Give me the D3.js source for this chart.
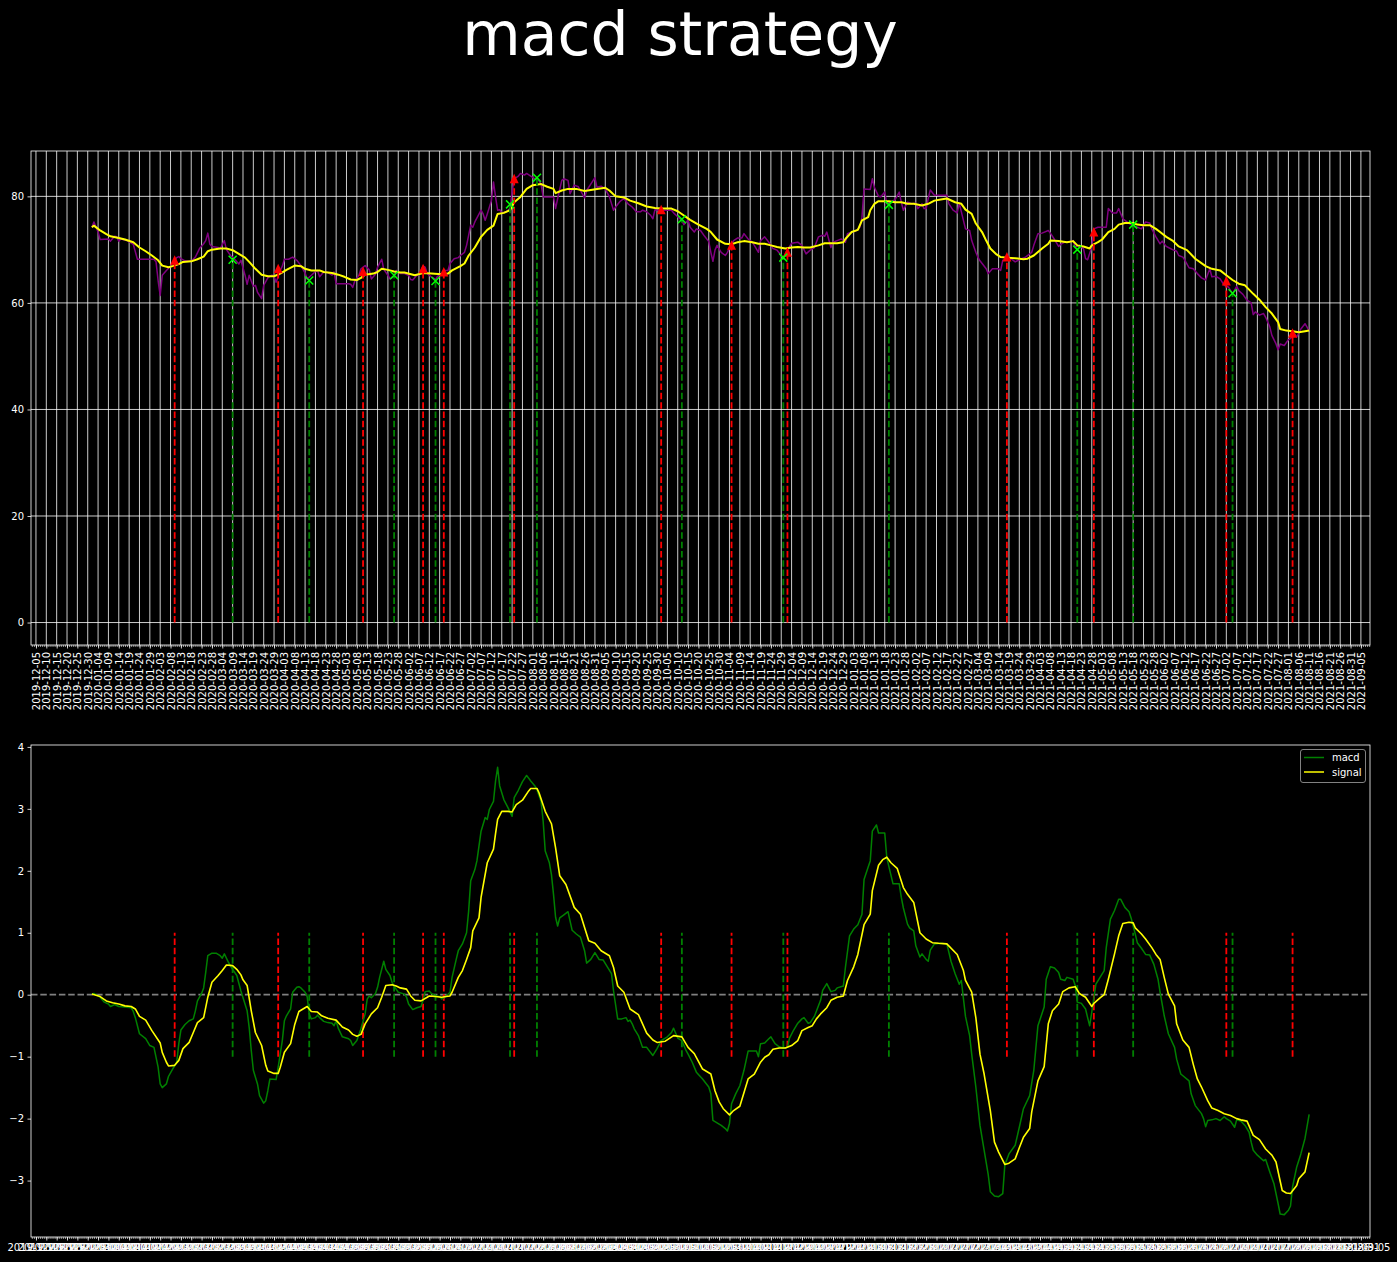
<!DOCTYPE html>
<html>
<head>
<meta charset="utf-8">
<script src="https://cdn.jsdelivr.net/npm/d3@7"></script>
<style>
  html, body { margin: 0; padding: 0; background: #000; }
  svg { display: block; }
</style>
</head>
<body>
<div id="chart"></div>
<script>
// ---------------- DATA ----------------
const chartTitle = "macd strategy";
const baseDate = "2019-12-05";           // day 0 of the day offsets below
const xTickStart = "2019-12-05";
const xTickEnd = "2021-09-05";
const xTickStepDays = 5;
const yTicksTop = [0, 20, 40, 60, 80];
const yTicksBottom = [-3, -2, -1, 0, 1, 2, 3, 4];
const legendLabels = ["macd", "signal"];

// [days since baseDate, price]
const priceSeries = [[27,74.2],[28,75.2],[30,73.3],[31,71.9],[35,72.0],[36,71.6],[38,72.5],[39,72.4],[40,71.6],[41,72.0],[44,71.7],[47,71.0],[49,68.2],[57,68.2],[58,67.7],[59,64.2],[60,61.4],[61,65.2],[63,66.1],[65,66.9],[66,67.5],[68,68.5],[69,68.7],[70,68.3],[72,67.9],[75,67.8],[77,68.6],[79,70.2],[81,71.1],[82,71.7],[83,73.1],[84,71.0],[85,70.6],[88,70.4],[89,70.2],[91,71.7],[92,70.0],[94,68.9],[96,68.2],[98,67.3],[99,68.0],[101,65.2],[102,63.5],[103,65.2],[104,64.1],[105,63.1],[106,63.3],[107,62.0],[109,60.8],[110,63.3],[112,64.7],[114,65.2],[115,65.0],[116,63.9],[118,66.1],[119,66.9],[120,68.2],[122,68.2],[124,68.6],[126,68.0],[128,67.0],[130,65.6],[131,64.5],[133,65.2],[135,65.9],[136,66.1],[137,64.9],[139,65.8],[141,65.7],[143,65.2],[144,65.8],[145,63.6],[151,63.6],[152,63.5],[153,62.9],[154,64.1],[156,65.2],[157,66.4],[159,67.0],[161,66.2],[162,64.5],[164,65.4],[165,66.7],[167,68.2],[168,66.3],[170,65.2],[171,64.5],[173,65.0],[174,66.1],[176,65.5],[178,65.5],[180,65.2],[181,64.4],[182,64.3],[184,65.2],[185,65.2],[187,66.9],[188,66.7],[189,65.5],[191,64.9],[193,64.4],[194,65.0],[196,65.5],[197,66.1],[199,66.1],[200,67.4],[202,68.3],[204,68.5],[205,68.9],[207,69.5],[208,70.8],[210,74.6],[211,74.2],[212,75.2],[215,77.4],[216,76.7],[217,75.5],[218,76.7],[220,79.2],[221,82.7],[222,79.9],[223,77.4],[224,77.5],[225,76.9],[227,77.1],[229,77.7],[230,80.8],[231,83.3],[233,83.8],[234,84.3],[236,84.0],[237,84.3],[239,83.8],[241,83.3],[242,83.5],[244,82.3],[245,79.9],[249,79.9],[250,79.9],[251,77.7],[252,79.6],[254,83.0],[255,83.3],[257,83.0],[258,80.5],[260,82.1],[262,81.8],[263,81.1],[265,79.7],[266,81.1],[268,82.3],[270,83.5],[271,81.7],[273,81.9],[275,81.4],[277,79.9],[279,77.4],[280,78.0],[282,79.0],[284,79.6],[286,78.6],[288,78.0],[290,77.1],[292,77.1],[293,77.4],[295,77.1],[297,76.4],[298,75.8],[299,77.5],[301,77.4],[303,77.4],[307,77.4],[308,76.9],[311,75.8],[312,75.5],[313,74.7],[315,75.5],[316,74.2],[318,73.3],[319,73.9],[321,73.6],[323,72.5],[325,71.5],[326,69.5],[327,67.8],[328,69.9],[329,70.8],[331,69.5],[333,68.9],[334,69.5],[336,71.1],[337,71.7],[339,72.2],[341,72.2],[342,73.0],[344,72.0],[346,71.4],[347,70.8],[349,69.5],[350,71.7],[352,72.4],[354,71.4],[356,70.2],[358,69.9],[360,68.9],[361,68.5],[363,69.9],[365,71.2],[368,71.4],[370,70.8],[372,69.2],[374,69.9],[376,70.4],[378,72.4],[380,72.7],[381,72.5],[382,73.3],[384,70.4],[385,71.4],[387,71.7],[389,72.0],[391,71.4],[392,73.0],[394,73.3],[396,73.5],[398,74.2],[399,76.1],[400,81.4],[403,81.3],[404,83.3],[405,81.7],[407,80.0],[408,79.9],[410,80.8],[411,78.6],[413,78.9],[415,79.4],[417,80.8],[418,78.9],[419,77.4],[421,78.9],[423,78.6],[425,78.7],[426,77.7],[428,78.6],[429,77.7],[430,77.7],[431,79.6],[432,81.2],[434,80.2],[440,80.2],[441,78.6],[443,77.4],[445,76.9],[446,78.7],[448,75.5],[449,73.9],[451,73.6],[452,71.7],[454,69.5],[455,68.6],[456,67.9],[459,66.4],[460,65.5],[462,66.4],[465,66.4],[466,66.1],[467,68.0],[469,68.0],[471,68.3],[473,67.7],[475,68.1],[476,68.3],[478,68.6],[481,69.5],[482,70.8],[484,73.0],[486,73.1],[489,73.6],[490,73.1],[492,71.9],[494,70.6],[495,71.0],[497,71.4],[499,71.4],[501,71.7],[502,70.5],[504,70.8],[506,70.2],[507,68.3],[508,68.1],[510,70.5],[511,73.9],[513,74.2],[515,74.2],[517,74.2],[518,77.7],[520,76.9],[522,76.9],[523,77.7],[525,75.8],[527,75.2],[530,74.4],[532,74.2],[534,73.9],[536,75.2],[538,75.0],[539,73.9],[541,72.4],[543,71.1],[544,71.6],[546,70.6],[547,70.4],[549,70.0],[551,69.7],[552,68.9],[554,68.6],[555,68.0],[557,66.6],[559,66.4],[561,65.5],[563,64.7],[565,64.3],[567,66.4],[568,64.9],[570,65.0],[572,64.5],[574,63.3],[576,63.0],[578,61.7],[580,63.1],[581,62.3],[583,61.6],[585,60.5],[587,60.0],[588,57.8],[589,58.3],[591,57.7],[593,58.0],[594,57.3],[596,55.5],[597,53.9],[599,52.3],[600,51.2],[601,52.3],[603,52.0],[605,53.1],[606,53.3],[608,54.2],[609,53.6],[611,55.1],[613,56.1],[615,54.8]];

// [days since baseDate, moving average]
const maSeries = [[27,74.2],[28,74.5],[31,73.6],[34,72.9],[36,72.5],[40,72.2],[43,71.9],[47,71.4],[50,70.4],[53,69.7],[56,68.9],[59,68.0],[61,67.0],[64,66.7],[66,66.9],[69,67.3],[71,67.7],[75,67.8],[78,68.2],[81,68.7],[83,69.7],[85,70.0],[89,70.2],[92,70.2],[95,69.9],[98,69.2],[101,68.5],[103,67.7],[106,66.4],[109,65.3],[112,65.0],[115,65.0],[118,65.5],[121,66.2],[125,67.0],[128,66.9],[130,66.4],[133,66.1],[137,66.1],[139,65.8],[143,65.6],[146,65.3],[149,64.9],[152,64.4],[155,64.3],[157,64.7],[159,65.3],[163,65.5],[165,65.8],[167,66.4],[170,66.2],[173,65.9],[176,65.7],[178,65.7],[183,65.2],[187,65.6],[191,65.5],[196,65.4],[199,65.5],[201,66.1],[205,66.9],[207,67.4],[209,68.9],[212,70.4],[215,72.4],[218,73.7],[221,74.5],[223,76.7],[226,76.9],[229,77.4],[231,78.9],[234,79.9],[237,81.4],[240,82.1],[244,82.3],[247,81.8],[250,81.4],[251,80.6],[254,81.1],[257,81.4],[261,81.4],[265,81.0],[268,81.2],[271,81.4],[275,81.6],[277,81.1],[280,80.0],[284,79.8],[287,79.2],[291,78.7],[295,78.1],[299,77.8],[302,77.7],[307,77.7],[310,77.2],[313,76.4],[316,75.6],[320,74.7],[324,73.9],[326,73.3],[329,71.9],[333,71.1],[336,71.0],[339,71.4],[342,71.6],[346,71.4],[349,71.1],[352,71.1],[355,70.8],[358,70.5],[362,70.2],[365,70.4],[368,70.5],[371,70.4],[374,70.4],[378,70.8],[381,71.2],[384,71.2],[387,71.2],[390,71.4],[391,72.0],[394,73.3],[397,73.7],[399,75.5],[402,76.1],[403,77.4],[405,78.6],[407,79.1],[412,79.1],[415,78.9],[418,78.9],[421,78.6],[424,78.6],[428,78.3],[431,78.6],[434,79.2],[437,79.4],[440,79.6],[444,78.9],[447,78.6],[449,77.5],[452,76.7],[454,74.9],[457,73.3],[459,71.7],[461,70.2],[464,69.1],[466,68.6],[469,68.5],[473,68.4],[477,68.2],[479,68.3],[482,68.9],[486,70.2],[489,71.1],[490,71.7],[494,71.6],[498,71.4],[501,71.6],[503,70.8],[506,70.6],[509,70.2],[510,70.8],[513,71.4],[515,71.9],[518,73.3],[521,73.9],[523,74.7],[526,75.0],[530,75.0],[532,74.7],[535,74.6],[538,74.6],[541,73.9],[543,73.3],[546,72.4],[549,71.7],[552,70.6],[556,69.9],[560,68.3],[565,66.9],[568,66.4],[572,66.1],[575,65.2],[578,64.3],[581,63.6],[584,63.3],[588,61.7],[591,60.6],[594,59.2],[597,58.0],[600,56.4],[601,55.1],[604,54.8],[607,54.7],[610,54.5],[613,54.7],[615,54.8]];

// [days since baseDate, macd]
const macdSeries = [[27,0.01],[28,0.02],[31,-0.04],[33,-0.12],[35,-0.15],[36,-0.19],[38,-0.16],[40,-0.19],[43,-0.20],[46,-0.21],[47,-0.27],[48,-0.37],[50,-0.63],[53,-0.71],[55,-0.82],[57,-0.85],[59,-1.17],[60,-1.44],[61,-1.50],[63,-1.44],[64,-1.32],[66,-1.20],[68,-1.09],[69,-0.79],[70,-0.57],[72,-0.48],[74,-0.42],[76,-0.39],[77,-0.26],[78,-0.10],[80,0.02],[81,0.11],[82,0.36],[83,0.63],[85,0.67],[87,0.67],[89,0.63],[90,0.59],[91,0.66],[93,0.52],[95,0.41],[97,0.31],[99,0.06],[102,-0.26],[103,-0.53],[104,-0.90],[105,-1.22],[107,-1.44],[108,-1.63],[110,-1.75],[111,-1.71],[112,-1.55],[113,-1.36],[116,-1.37],[117,-1.17],[119,-0.74],[120,-0.42],[121,-0.34],[123,-0.23],[124,0.04],[126,0.12],[127,0.13],[128,0.11],[130,0.04],[131,-0.03],[132,-0.31],[133,-0.39],[135,-0.37],[136,-0.33],[137,-0.37],[139,-0.43],[141,-0.45],[143,-0.46],[144,-0.50],[145,-0.42],[146,-0.54],[148,-0.68],[151,-0.71],[152,-0.74],[153,-0.82],[155,-0.74],[157,-0.55],[159,-0.31],[160,-0.07],[161,-0.02],[162,-0.05],[164,0.02],[165,0.12],[166,0.28],[168,0.54],[169,0.41],[171,0.31],[172,0.20],[173,0.14],[175,0.04],[178,0.01],[179,-0.04],[180,-0.15],[182,-0.24],[184,-0.21],[186,-0.19],[187,-0.09],[188,0.05],[190,0.06],[191,0.02],[193,-0.02],[195,-0.03],[196,-0.07],[198,-0.03],[200,0.04],[201,0.28],[203,0.57],[204,0.71],[206,0.82],[208,1.0],[209,1.35],[210,1.84],[212,2.02],[213,2.16],[215,2.64],[217,2.86],[218,2.83],[219,2.99],[221,3.12],[222,3.45],[223,3.67],[224,3.37],[226,3.15],[228,3.02],[230,2.88],[231,3.18],[233,3.30],[235,3.44],[237,3.54],[239,3.45],[241,3.37],[242,3.31],[244,3.12],[245,2.80],[246,2.32],[248,2.13],[249,1.94],[250,1.62],[251,1.25],[252,1.11],[253,1.24],[255,1.29],[257,1.34],[259,1.04],[261,0.98],[263,0.93],[265,0.71],[266,0.51],[268,0.57],[270,0.68],[272,0.57],[274,0.56],[276,0.45],[278,0.34],[279,0.06],[281,-0.39],[283,-0.39],[285,-0.37],[286,-0.43],[287,-0.41],[288,-0.47],[289,-0.55],[291,-0.66],[293,-0.85],[295,-0.85],[298,-0.98],[300,-0.87],[302,-0.74],[305,-0.68],[307,-0.61],[308,-0.54],[310,-0.70],[312,-0.74],[314,-0.90],[315,-0.96],[317,-1.09],[319,-1.25],[322,-1.36],[325,-1.49],[326,-1.60],[327,-2.03],[329,-2.07],[331,-2.11],[333,-2.16],[334,-2.20],[335,-2.08],[336,-1.76],[338,-1.60],[340,-1.47],[342,-1.22],[344,-0.91],[346,-0.91],[348,-0.91],[349,-1.0],[350,-0.79],[352,-0.78],[354,-0.71],[355,-0.68],[357,-0.79],[359,-0.84],[361,-0.86],[363,-0.85],[364,-0.70],[366,-0.57],[368,-0.46],[370,-0.39],[371,-0.37],[373,-0.46],[374,-0.45],[376,-0.35],[379,-0.09],[380,0.07],[382,0.18],[384,0.05],[386,0.07],[387,0.11],[390,0.14],[391,0.44],[393,0.95],[395,1.06],[397,1.13],[399,1.30],[400,1.86],[402,2.06],[403,2.16],[404,2.64],[406,2.74],[407,2.61],[410,2.61],[411,2.21],[414,1.79],[417,1.79],[418,1.57],[419,1.40],[421,1.14],[422,1.08],[424,1.03],[425,0.79],[427,0.61],[428,0.66],[430,0.57],[431,0.54],[432,0.72],[434,0.82],[437,0.83],[440,0.82],[442,0.54],[444,0.34],[446,0.17],[447,0.23],[449,-0.35],[451,-0.66],[452,-0.96],[454,-1.49],[456,-2.11],[458,-2.51],[460,-2.91],[461,-3.18],[463,-3.25],[465,-3.26],[467,-3.21],[468,-2.75],[470,-2.57],[473,-2.43],[475,-2.14],[477,-1.84],[480,-1.63],[482,-1.22],[484,-0.50],[487,-0.20],[488,0.25],[490,0.45],[492,0.43],[494,0.36],[495,0.25],[497,0.23],[498,0.28],[501,0.25],[502,0.15],[503,-0.12],[505,-0.14],[507,-0.23],[508,-0.37],[509,-0.50],[510,-0.28],[512,0.17],[514,0.28],[516,0.39],[517,0.76],[519,1.22],[521,1.36],[523,1.54],[524,1.54],[526,1.41],[528,1.34],[529,1.24],[531,0.98],[532,0.84],[534,0.75],[536,0.65],[538,0.64],[540,0.49],[542,0.25],[543,0.04],[545,-0.34],[547,-0.63],[550,-0.85],[551,-1.04],[553,-1.28],[557,-1.39],[558,-1.60],[560,-1.79],[563,-1.92],[564,-2.00],[565,-2.13],[566,-2.03],[568,-2.02],[570,-2.00],[572,-2.03],[574,-1.97],[575,-2.00],[577,-2.04],[579,-2.14],[580,-2.02],[582,-2.04],[584,-2.11],[586,-2.22],[587,-2.38],[588,-2.51],[590,-2.59],[593,-2.68],[594,-2.66],[596,-2.86],[598,-3.05],[600,-3.37],[601,-3.54],[603,-3.55],[605,-3.48],[606,-3.41],[607,-3.10],[609,-2.78],[611,-2.57],[613,-2.32],[615,-1.93]];

// [days since baseDate, signal]
const signalSeries = [[27,0.01],[31,-0.03],[34,-0.10],[37,-0.13],[40,-0.15],[43,-0.18],[46,-0.19],[48,-0.23],[50,-0.35],[53,-0.41],[56,-0.58],[60,-0.78],[61,-0.93],[63,-1.09],[64,-1.15],[67,-1.14],[69,-1.06],[71,-0.87],[74,-0.77],[76,-0.61],[78,-0.45],[81,-0.37],[83,-0.04],[85,0.20],[88,0.31],[90,0.39],[92,0.48],[95,0.47],[97,0.41],[99,0.32],[100,0.24],[102,0.15],[104,-0.26],[106,-0.61],[109,-0.82],[111,-1.14],[112,-1.23],[115,-1.27],[117,-1.27],[118,-1.17],[120,-0.93],[123,-0.79],[125,-0.48],[127,-0.27],[129,-0.23],[131,-0.19],[133,-0.27],[136,-0.28],[138,-0.34],[141,-0.38],[145,-0.41],[148,-0.52],[151,-0.57],[153,-0.64],[155,-0.67],[157,-0.64],[159,-0.47],[162,-0.31],[165,-0.21],[167,-0.04],[169,0.15],[172,0.16],[174,0.14],[176,0.11],[179,0.09],[181,-0.02],[183,-0.09],[186,-0.10],[189,-0.04],[190,-0.02],[193,-0.03],[196,-0.04],[198,-0.03],[200,-0.02],[201,0.04],[204,0.28],[206,0.39],[208,0.57],[210,0.76],[211,1.03],[214,1.24],[215,1.57],[218,2.13],[221,2.35],[222,2.60],[223,2.83],[225,2.96],[228,2.96],[230,2.95],[232,3.07],[235,3.14],[238,3.29],[239,3.33],[242,3.33],[243,3.26],[246,2.96],[249,2.76],[251,2.37],[253,1.92],[256,1.78],[260,1.41],[263,1.30],[267,0.87],[270,0.83],[273,0.71],[277,0.63],[279,0.44],[281,0.14],[284,0.04],[287,-0.23],[291,-0.32],[295,-0.62],[298,-0.73],[300,-0.77],[304,-0.75],[308,-0.66],[312,-0.68],[315,-0.85],[318,-0.95],[322,-1.20],[326,-1.28],[328,-1.55],[330,-1.73],[332,-1.84],[335,-1.94],[337,-1.87],[340,-1.80],[344,-1.36],[347,-1.28],[350,-1.09],[352,-1.01],[354,-0.97],[356,-0.88],[359,-0.86],[362,-0.86],[365,-0.82],[368,-0.74],[370,-0.58],[373,-0.53],[375,-0.50],[377,-0.39],[379,-0.31],[382,-0.21],[384,-0.09],[387,-0.04],[390,-0.02],[392,0.23],[395,0.45],[397,0.65],[400,1.13],[403,1.30],[404,1.68],[407,2.09],[409,2.18],[411,2.22],[413,2.13],[416,2.04],[419,1.73],[421,1.62],[424,1.49],[427,1.00],[430,0.90],[433,0.84],[436,0.83],[440,0.82],[445,0.65],[448,0.39],[449,0.23],[452,0.04],[454,-0.37],[456,-0.96],[458,-1.28],[461,-1.87],[463,-2.38],[465,-2.54],[468,-2.74],[470,-2.72],[473,-2.65],[475,-2.47],[477,-2.30],[480,-2.16],[481,-1.89],[484,-1.39],[487,-1.16],[489,-0.47],[491,-0.26],[494,-0.15],[496,0.05],[499,0.11],[502,0.13],[504,0.02],[507,-0.04],[510,-0.19],[511,-0.14],[514,-0.05],[516,0.0],[518,0.25],[521,0.66],[523,0.95],[525,1.15],[528,1.17],[530,1.16],[531,1.08],[534,0.98],[536,0.90],[539,0.76],[541,0.65],[543,0.57],[545,0.28],[547,0.01],[550,-0.18],[551,-0.47],[554,-0.73],[557,-0.85],[559,-1.12],[561,-1.36],[563,-1.49],[566,-1.71],[568,-1.83],[571,-1.87],[574,-1.92],[577,-1.95],[580,-2.00],[582,-2.02],[585,-2.04],[588,-2.27],[591,-2.34],[594,-2.49],[597,-2.59],[599,-2.70],[602,-3.16],[604,-3.20],[606,-3.21],[609,-3.08],[610,-2.97],[613,-2.86],[615,-2.55]];

const buyDates  = ["2020-02-10","2020-03-31","2020-05-11","2020-06-09","2020-06-19","2020-07-23","2020-10-02","2020-11-05","2020-12-02","2021-03-18","2021-04-29","2021-07-02","2021-08-03"];
const buyPrices = [68.0, 66.4, 65.9, 66.4, 65.8, 83.3, 77.5, 70.8, 69.5, 68.6, 73.3, 64.1, 54.3];
const sellDates  = ["2020-03-09","2020-04-15","2020-05-26","2020-06-15","2020-07-21","2020-08-03","2020-10-12","2020-11-30","2021-01-20","2021-04-21","2021-05-18","2021-07-05"];
const sellPrices = [68.1, 64.2, 65.2, 64.1, 78.5, 83.5, 75.7, 68.5, 78.4, 70.0, 74.7, 61.8];
const signalLineRange = [-1, 1];

// ---------------- LAYOUT ----------------
const W = 1397, H = 1262;
const L = 31, R = 1370;
const P1 = {top: 151, bottom: 645};
const P2 = {top: 745, bottom: 1237};
const FONT = "DejaVu Sans";
const DASH = "6.5,2.8";
const DASH_W = 1.8;

const parse = d3.utcParse("%Y-%m-%d");
const base = parse(baseDate);
const toDate = d => d3.utcDay.offset(base, d);
const DAY = 864e5;

// matplotlib-like 5% margins around the data extent
const [d0, d1] = d3.extent(priceSeries, d => d[0]);
const xpad = (d1 - d0) * 0.05;
const x = d3.scaleUtc()
  .domain([new Date(+base + (d0 - xpad) * DAY), new Date(+base + (d1 + xpad) * DAY)])
  .range([L, R]);

const yTopMax = d3.max([...priceSeries.map(d => d[1]), ...buyPrices, ...sellPrices]);
const yTopMin = 0;
const ytp = (yTopMax - yTopMin) * 0.05;
const y1 = d3.scaleLinear().domain([yTopMin - ytp, yTopMax + ytp]).range([P1.bottom, P1.top]);

const allB = [...macdSeries.map(d => d[1]), ...signalSeries.map(d => d[1]), ...signalLineRange];
const bMin = d3.min(allB), bMax = d3.max(allB);
const ybp = (bMax - bMin) * 0.05;
const y2 = d3.scaleLinear().domain([bMin - ybp, bMax + ybp]).range([P2.bottom, P2.top]);

const majorTicks = d3.utcDay.range(parse(xTickStart), d3.utcDay.offset(parse(xTickEnd), 1), xTickStepDays);
const minorTicks = d3.utcDay.range(d3.utcDay.ceil(x.domain()[0]), x.domain()[1]);
const fmt = d3.utcFormat("%Y-%m-%d");

const svg = d3.select("#chart").append("svg")
  .attr("width", W).attr("height", H)
  .attr("font-family", FONT);

svg.append("rect").attr("width", W).attr("height", H).attr("fill", "#000");

// Title
svg.append("text")
  .attr("x", 680).attr("y", 55)
  .attr("text-anchor", "middle")
  .attr("fill", "#fff")
  .attr("font-size", 60)
  .text(chartTitle);

function styleAxis(g) {
  g.attr("font-family", FONT).attr("font-size", 10);
  g.select(".domain").remove();
  g.selectAll(".tick line").attr("stroke", "#fff").attr("stroke-width", 0.8);
  g.selectAll(".tick text").attr("fill", "#fff");
}

function clipId(id, p) {
  svg.append("clipPath").attr("id", id).append("rect")
    .attr("x", L).attr("y", p.top).attr("width", R - L).attr("height", p.bottom - p.top);
}
clipId("clip1", P1);
clipId("clip2", P2);

// ================= TOP PANEL =================
const g1 = svg.append("g");
const grid1 = g1.append("g").attr("clip-path", "url(#clip1)");
grid1.selectAll("line.vx").data(majorTicks).join("line")
  .attr("x1", d => x(d)).attr("x2", d => x(d))
  .attr("y1", P1.top).attr("y2", P1.bottom)
  .attr("stroke", "#fff").attr("stroke-width", 0.8);
grid1.selectAll("line.hy").data(yTicksTop).join("line")
  .attr("x1", L).attr("x2", R)
  .attr("y1", d => y1(d)).attr("y2", d => y1(d))
  .attr("stroke", "#fff").attr("stroke-width", 0.8);

const plot1 = g1.append("g").attr("clip-path", "url(#clip1)");
const line1 = d3.line().x(d => x(toDate(d[0]))).y(d => y1(d[1]));
plot1.append("path").datum(priceSeries)
  .attr("d", line1).attr("fill", "none")
  .attr("stroke", "purple").attr("stroke-width", 1.5).attr("stroke-linejoin", "round");
plot1.append("path").datum(maSeries)
  .attr("d", line1).attr("fill", "none")
  .attr("stroke", "yellow").attr("stroke-width", 2).attr("stroke-linejoin", "round");

const buys = buyDates.map((d, i) => ({date: parse(d), v: buyPrices[i]}));
const sells = sellDates.map((d, i) => ({date: parse(d), v: sellPrices[i]}));

plot1.selectAll("line.buyv").data(buys).join("line")
  .attr("x1", d => x(d.date)).attr("x2", d => x(d.date))
  .attr("y1", y1(0)).attr("y2", d => y1(d.v))
  .attr("stroke", "red").attr("stroke-width", DASH_W).attr("stroke-dasharray", DASH);
plot1.selectAll("line.sellv").data(sells).join("line")
  .attr("x1", d => x(d.date)).attr("x2", d => x(d.date))
  .attr("y1", y1(0)).attr("y2", d => y1(d.v))
  .attr("stroke", "#008000").attr("stroke-width", DASH_W).attr("stroke-dasharray", DASH);

plot1.selectAll("path.buym").data(buys).join("path")
  .attr("d", "M0,-5L-4.5,4.5L4.5,4.5Z")
  .attr("transform", d => `translate(${x(d.date)},${y1(d.v)})`)
  .attr("fill", "red");
plot1.selectAll("path.sellm").data(sells).join("path")
  .attr("d", "M-4,-4L4,4M-4,4L4,-4")
  .attr("transform", d => `translate(${x(d.date)},${y1(d.v)})`)
  .attr("stroke", "lime").attr("stroke-width", 1.5).attr("fill", "none");

// frame
g1.append("rect").attr("x", L).attr("y", P1.top).attr("width", R - L).attr("height", P1.bottom - P1.top)
  .attr("fill", "none").attr("stroke", "#fff").attr("stroke-width", 0.8);

// axes
g1.append("g").attr("transform", `translate(0,${P1.bottom})`)
  .call(d3.axisBottom(x).tickValues(minorTicks).tickSize(2).tickFormat(""))
  .call(styleAxis)
  .call(g => g.selectAll(".tick line").attr("stroke-width", 0.6));
const xa1 = g1.append("g").attr("transform", `translate(0,${P1.bottom})`)
  .call(d3.axisBottom(x).tickValues(majorTicks).tickSize(3.5).tickPadding(3.5).tickFormat(fmt))
  .call(styleAxis);
xa1.selectAll(".tick text")
  .attr("transform", "rotate(-90)")
  .attr("text-anchor", "end")
  .attr("x", -7).attr("y", 0).attr("dy", "0.35em");

g1.append("g").attr("transform", `translate(${L},0)`)
  .call(d3.axisLeft(y1).tickValues(yTicksTop).tickSize(3.5).tickPadding(3.5).tickFormat(d3.format("d")))
  .call(styleAxis);

// ================= BOTTOM PANEL =================
const g2 = svg.append("g");
const plot2 = g2.append("g").attr("clip-path", "url(#clip2)");

plot2.append("line")
  .attr("x1", L).attr("x2", R).attr("y1", y2(0)).attr("y2", y2(0))
  .attr("stroke", "gray").attr("stroke-width", DASH_W).attr("stroke-dasharray", DASH);

plot2.selectAll("line.buyv2").data(buys).join("line")
  .attr("x1", d => x(d.date)).attr("x2", d => x(d.date))
  .attr("y1", y2(signalLineRange[0])).attr("y2", y2(signalLineRange[1]))
  .attr("stroke", "red").attr("stroke-width", DASH_W).attr("stroke-dasharray", DASH);
plot2.selectAll("line.sellv2").data(sells).join("line")
  .attr("x1", d => x(d.date)).attr("x2", d => x(d.date))
  .attr("y1", y2(signalLineRange[0])).attr("y2", y2(signalLineRange[1]))
  .attr("stroke", "#008000").attr("stroke-width", DASH_W).attr("stroke-dasharray", DASH);

const line2 = d3.line().x(d => x(toDate(d[0]))).y(d => y2(d[1]));
plot2.append("path").datum(macdSeries)
  .attr("d", line2).attr("fill", "none")
  .attr("stroke", "#008000").attr("stroke-width", 1.5).attr("stroke-linejoin", "round");
plot2.append("path").datum(signalSeries)
  .attr("d", line2).attr("fill", "none")
  .attr("stroke", "yellow").attr("stroke-width", 1.6).attr("stroke-linejoin", "round");

g2.append("rect").attr("x", L).attr("y", P2.top).attr("width", R - L).attr("height", P2.bottom - P2.top)
  .attr("fill", "none").attr("stroke", "#fff").attr("stroke-width", 0.8);

g2.append("g").attr("transform", `translate(0,${P2.bottom})`)
  .call(d3.axisBottom(x).tickValues(minorTicks).tickSize(2).tickFormat(""))
  .call(styleAxis)
  .call(g => g.selectAll(".tick line").attr("stroke-width", 0.6));
g2.append("g").attr("transform", `translate(0,${P2.bottom})`)
  .call(d3.axisBottom(x).tickValues(majorTicks).tickSize(3.5).tickPadding(3.5).tickFormat(fmt))
  .call(styleAxis);

g2.append("g").attr("transform", `translate(${L},0)`)
  .call(d3.axisLeft(y2).tickValues(yTicksBottom).tickSize(3.5).tickPadding(3.5)
    .tickFormat(d => d < 0 ? "\u2212" + Math.abs(d) : String(d)))
  .call(styleAxis);

// legend
const lg = g2.append("g");
lg.append("rect").attr("x", 1300.5).attr("y", 749.5).attr("width", 65).attr("height", 33)
  .attr("rx", 2.5).attr("fill", "#000").attr("fill-opacity", 0.8)
  .attr("stroke", "#a3a3a3").attr("stroke-width", 0.8);
const legColors = ["#008000", "yellow"];
legendLabels.forEach((lab, i) => {
  const yy = 757.5 + i * 14.5;
  lg.append("line").attr("x1", 1304).attr("x2", 1324).attr("y1", yy).attr("y2", yy)
    .attr("stroke", legColors[i]).attr("stroke-width", 1.5);
  lg.append("text").attr("x", 1332).attr("y", yy).attr("dy", "0.35em")
    .attr("fill", "#fff").attr("font-size", 10).text(lab);
});
</script>
</body>
</html>
